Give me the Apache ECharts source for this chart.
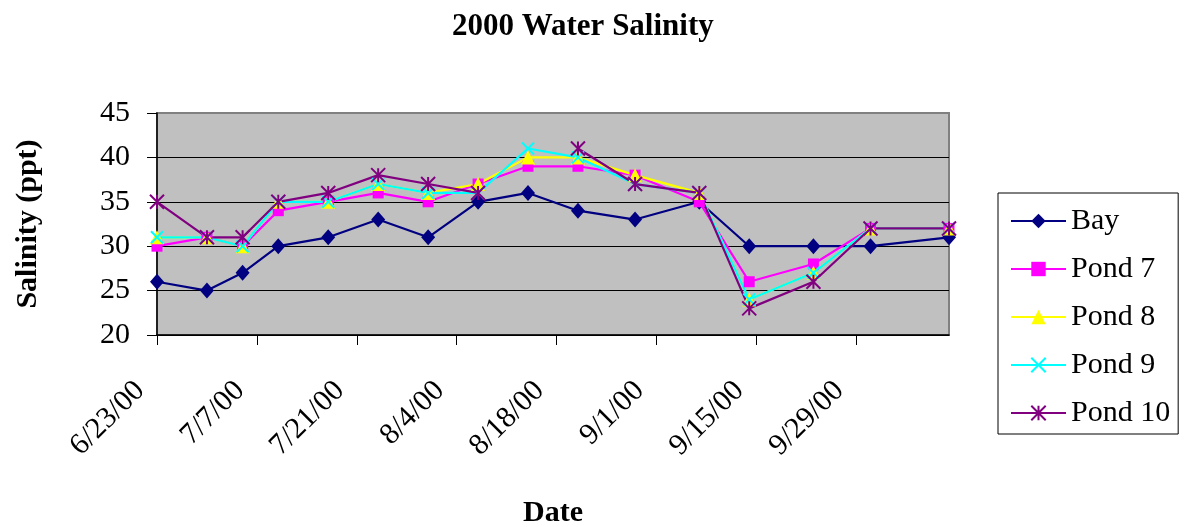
<!DOCTYPE html>
<html>
<head>
<meta charset="utf-8">
<title>2000 Water Salinity</title>
<script src="https://cdn.jsdelivr.net/npm/echarts@6/dist/echarts.min.js"></script>
<style>
  html, body { margin: 0; padding: 0; background: #fff; }
  #chart { width: 1185px; height: 527px; }
</style>
</head>
<body>
<div id="chart"></div>
<script>
// sampling dates
const sampleDates = [
  '2000-06-23', '2000-06-30', '2000-07-05', '2000-07-10', '2000-07-17', '2000-07-24',
  '2000-07-31', '2000-08-07', '2000-08-14', '2000-08-21', '2000-08-29', '2000-09-07',
  '2000-09-14', '2000-09-23', '2000-10-01', '2000-10-12'
]
// labelled ticks on the date axis
const tickDates = ['2000-06-23', '2000-07-07', '2000-07-21', '2000-08-04', '2000-08-18', '2000-09-01', '2000-09-15', '2000-09-29']

// salinity (ppt)
const bay = [26, 25, 27, 30, 31, 33, 31, 35, 36, 34, 33, 35, 30, 30, 30, 31]
const pond7 = [30, 31, 30, 34, 35, 36, 35, 37, 39, 39, 38, 35, 26, 28, 32, 32]
const pond8 = [31, 31, 30, 35, 35, 37, 36, 37, 40, 40, 38, 36, 24, 27, 32, 32]
const pond9 = [31, 31, 30, 35, 35, 37, 36, 36, 41, 40, 37, 36, 24, 27, 32, 32]
const pond10 = [35, 31, 31, 35, 36, 38, 37, 36, null, 41, 37, 36, 23, 26, 32, 32]

const DAY = 86400000
const t0 = Date.parse(sampleDates[0])
const dayOf = (s) => Math.round((Date.parse(s) - t0) / DAY)
const fmtDay = (d) => {
  const dt = new Date(t0 + d * DAY)
  return (dt.getUTCMonth() + 1) + '/' + dt.getUTCDate() + '/' + String(dt.getUTCFullYear()).slice(2)
}
const pairs = (vals) => sampleDates.map((s, i) => [dayOf(s), vals[i]])

const FONT = 'Liberation Serif'
const crossPath = 'path://M0,0L10,10M10,0L0,10'
const starPath = 'path://M0,0L10,10M10,0L0,10M5,0L5,10'

const chart = echarts.init(document.getElementById('chart'))

const mkSeries = (name, data, color, symbol, size, stroked) => ({
  name: name,
  type: 'line',
  data: pairs(data),
  symbol: symbol,
  symbolSize: size,
  showAllSymbol: true,
  connectNulls: false,
  lineStyle: { color: color, width: 2.2 },
  itemStyle: stroked
    ? { color: color, borderColor: color, borderWidth: 2 }
    : { color: color, borderWidth: 0 },
  emphasis: { disabled: true },
  animation: false
})

const option = {
  animation: false,
  title: {
    text: '2000 Water Salinity',
    left: 452,
    top: 11,
    padding: 0,
    textStyle: { fontFamily: FONT, fontSize: 31, fontWeight: 'bold', color: '#000' }
  },
  legend: {
    orient: 'vertical',
    left: 998,
    top: 193,
    padding: [13, 8, 6, 12],
    itemGap: 18,
    itemWidth: 55,
    itemHeight: 18,
    borderColor: '#000',
    borderWidth: 1,
    textStyle: { fontFamily: FONT, fontSize: 30, color: '#000', lineHeight: 30 },
    data: ['Bay', 'Pond 7', 'Pond 8', 'Pond 9', 'Pond 10']
  },
  grid: {
    left: 157,
    top: 113,
    width: 792,
    height: 222,
    outerBoundsMode: 'none',
    containLabel: false,
    show: true,
    backgroundColor: '#c0c0c0',
    borderColor: '#808080',
    borderWidth: 2
  },
  xAxis: {
    type: 'value',
    min: 0,
    max: dayOf(sampleDates[sampleDates.length - 1]),
    interval: 14,
    name: 'Date',
    nameLocation: 'middle',
    nameGap: 163,
    nameTextStyle: { fontFamily: FONT, fontSize: 30, fontWeight: 'bold', color: '#000', verticalAlign: 'top' },
    axisLine: { onZero: false, lineStyle: { color: '#000', width: 1.5 } },
    axisTick: {
      show: true,
      length: 10,
      lineStyle: { color: '#000' },
      customValues: tickDates.map(dayOf)
    },
    axisLabel: {
      rotate: 45,
      margin: 34,
      padding: [0, 24, 0, 0],
      fontFamily: FONT,
      fontSize: 30,
      color: '#000',
      customValues: tickDates.map(dayOf),
      formatter: (v) => fmtDay(v)
    },
    splitLine: { show: false }
  },
  yAxis: {
    type: 'value',
    min: 20,
    max: 45,
    interval: 5,
    name: 'Salinity (ppt)',
    nameLocation: 'middle',
    nameGap: 114,
    nameTextStyle: { fontFamily: FONT, fontSize: 30, fontWeight: 'bold', color: '#000' },
    axisLine: { show: true, lineStyle: { color: '#000', width: 1.5 } },
    axisTick: { show: true, length: 10, lineStyle: { color: '#000' } },
    axisLabel: { margin: 27, fontFamily: FONT, fontSize: 30, color: '#000' },
    splitLine: {
      show: true,
      lineStyle: { color: ['#000', '#000', '#000', '#000', '#000', '#808080'], width: 1 }
    }
  },
  series: [
    mkSeries('Bay', bay, '#000080', 'diamond', [14, 16], false),
    mkSeries('Pond 7', pond7, '#ff00ff', 'rect', 11, false),
    mkSeries('Pond 8', pond8, '#ffff00', 'triangle', 14, false),
    mkSeries('Pond 9', pond9, '#00ffff', crossPath, 12, true),
    mkSeries('Pond 10', pond10, '#800080', starPath, 14, true)
  ]
}

chart.setOption(option)
</script>
</body>
</html>
